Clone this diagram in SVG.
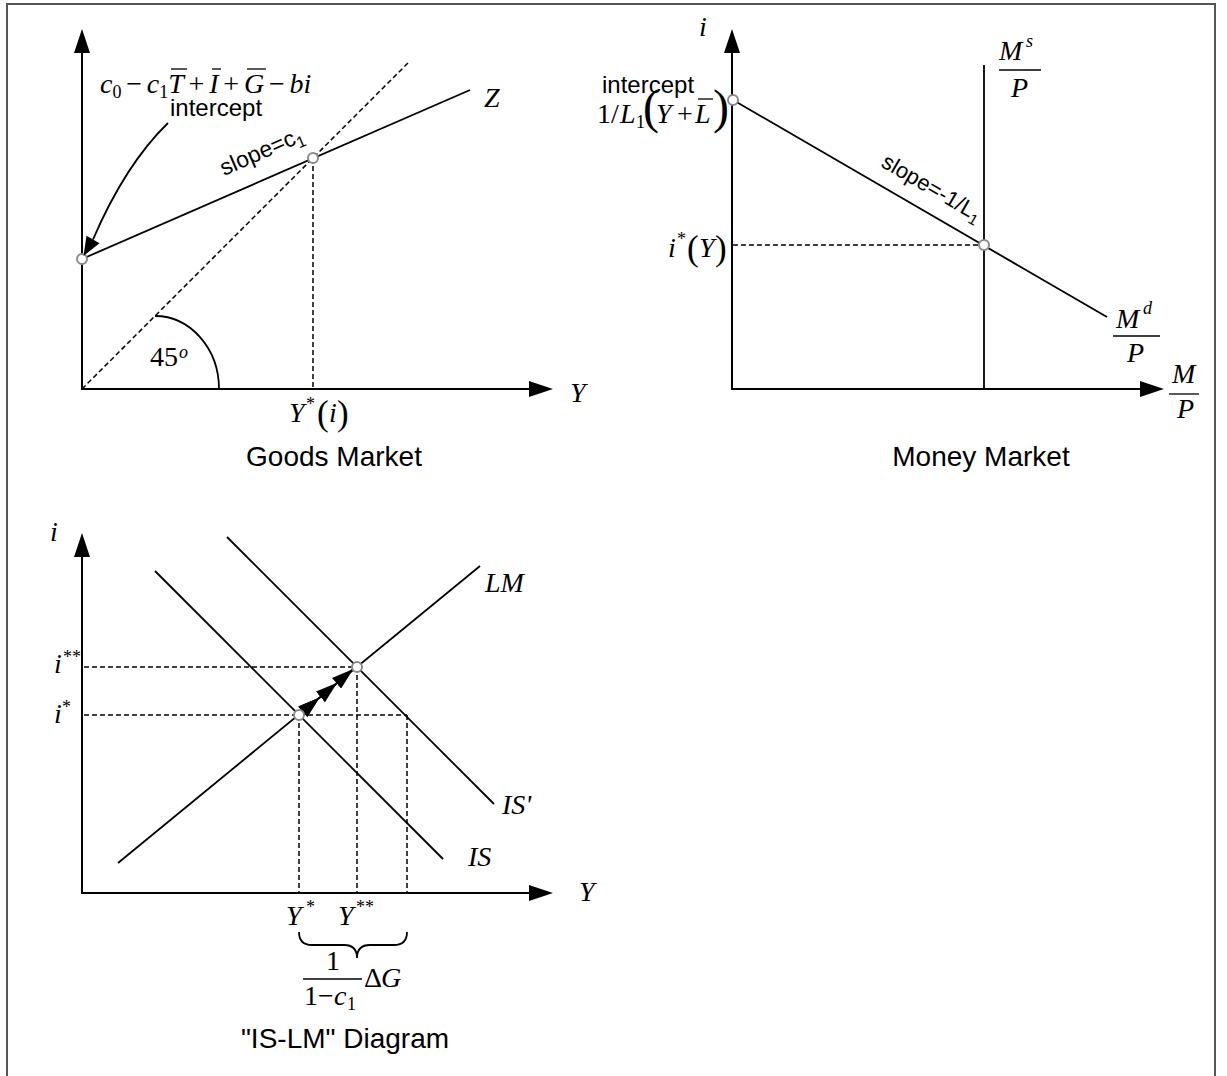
<svg xmlns="http://www.w3.org/2000/svg" width="1227" height="1076" viewBox="0 0 1227 1076">
<style>
.ax{stroke:#000;stroke-width:2;fill:none}
.ln{stroke:#000;stroke-width:1.8;fill:none}
.dash{stroke:#000;stroke-width:1.5;stroke-dasharray:5 3;fill:none}
.ovl{stroke:#000;stroke-width:1.3}
.pt{fill:#fff;stroke:#8a8a8a;stroke-width:2}
.m{font-family:"Liberation Serif","Times New Roman",serif;font-style:italic;font-size:28px;fill:#000}
.n{font-style:normal}
.sup{font-size:18px}
.s{font-family:"Liberation Sans",Arial,sans-serif;fill:#000}
.title{font-size:28px}
</style>
<defs>
<marker id="ah" viewBox="0 0 24 16" refX="0" refY="8" markerWidth="24" markerHeight="16" markerUnits="userSpaceOnUse" orient="auto"><path d="M0,0L24,8L0,16Z" fill="#000"/></marker>
<marker id="sh" viewBox="0 0 22 14" refX="22" refY="7" markerWidth="22" markerHeight="14" markerUnits="userSpaceOnUse" orient="auto"><path d="M0,0L22,7L0,14Z" fill="#000"/></marker>
</defs>
<rect width="1227" height="1076" fill="#fff"/>
<path d="M7,1076V4H1215V1076" fill="none" stroke="#555" stroke-width="2"/>

<g id="goods-market">
  <line class="ax" x1="82" y1="390" x2="82" y2="53" marker-end="url(#ah)"/>
  <line class="ax" x1="81" y1="389" x2="529" y2="389" marker-end="url(#ah)"/>
  <line class="ln" x1="82" y1="259" x2="470" y2="90"/>
  <line class="dash" x1="82" y1="389" x2="408" y2="63"/>
  <line class="dash" x1="313" y1="158" x2="313" y2="389"/>
  <path class="ln" d="M155,316A64,73 0 0 1 219,389"/>
  <circle class="pt" cx="82" cy="259" r="5"/>
  <circle class="pt" cx="313" cy="158" r="5"/>
  <text class="m" y="93"><tspan x="100">c</tspan><tspan class="n sup" x="112.4" y="98">0</tspan><tspan class="n" x="126.2" y="93">−</tspan><tspan x="146.8">c</tspan><tspan class="n sup" x="159.2" y="98">1</tspan><tspan x="168.2" y="93">T</tspan><tspan class="n" x="188.6">+</tspan><tspan x="209.2">I</tspan><tspan class="n" x="223.3">+</tspan><tspan x="243.9">G</tspan><tspan class="n" x="268.9">−</tspan><tspan x="289.5">b</tspan><tspan x="303.5">i</tspan></text>
  <line class="ovl" x1="171" y1="69" x2="187" y2="69"/>
  <line class="ovl" x1="212" y1="69" x2="221" y2="69"/>
  <line class="ovl" x1="247" y1="69" x2="266" y2="69"/>
  <text class="s" x="170" y="116" font-size="24">intercept</text>
  <text class="s" font-size="23" transform="translate(224,176) rotate(-23.6)">slope=c<tspan font-size="16" dy="5">1</tspan></text>
  <text class="m" x="484" y="107">Z</text>
  <text class="m" x="570" y="402">Y</text>
  <text class="m n" x="150" y="366">45</text>
  <text class="m sup" x="179" y="358">o</text>
  <text class="m" y="422"><tspan x="289">Y</tspan><tspan class="n sup" x="306" y="410">*</tspan><tspan class="n" x="317" y="425" font-size="35">(</tspan><tspan x="329" y="422">i</tspan><tspan class="n" x="337" y="425" font-size="35">)</tspan></text>
  <text class="s title" x="334" y="466" text-anchor="middle">Goods Market</text>
</g>

<g id="money-market">
  <line class="ax" x1="732" y1="390" x2="732" y2="53" marker-end="url(#ah)"/>
  <line class="ax" x1="731" y1="389" x2="1140" y2="389" marker-end="url(#ah)"/>
  <line class="ln" x1="984" y1="65" x2="984" y2="389"/>
  <line class="ln" x1="733" y1="100" x2="1107" y2="317"/>
  <line class="dash" x1="733" y1="245" x2="984" y2="245"/>
  <circle class="pt" cx="733" cy="100" r="5"/>
  <circle class="pt" cx="984" cy="245" r="5"/>
  <text class="m" x="699" y="36">i</text>
  <text class="s" x="602" y="93" font-size="24">intercept</text>
  <text class="m" y="123"><tspan class="n" x="597">1</tspan><tspan class="n" x="611">/</tspan><tspan x="620">L</tspan><tspan class="n sup" x="636" y="128">1</tspan><tspan class="n" x="643" y="123" font-size="48">(</tspan><tspan x="656" y="123">Y</tspan><tspan class="n" x="677">+</tspan><tspan x="695">L</tspan><tspan class="n" x="713" y="123" font-size="48">)</tspan></text>
  <line class="ovl" x1="698" y1="99" x2="713" y2="99"/>
  <text class="s" font-size="22" transform="translate(880,166) rotate(30.07)">slope=-1/L<tspan font-size="15" dy="5">1</tspan></text>
  <text class="m" y="257"><tspan x="668">i</tspan><tspan class="n sup" x="677" y="245">*</tspan><tspan class="n" x="687" y="260" font-size="35">(</tspan><tspan x="699" y="257">Y</tspan><tspan class="n" x="715" y="260" font-size="35">)</tspan></text>
  <text class="m" x="999" y="60">M</text><text class="m sup" x="1026" y="47">s</text>
  <line class="ovl" x1="999" y1="70" x2="1041" y2="70"/>
  <text class="m" x="1011" y="97">P</text>
  <text class="m" x="1116" y="328">M</text><text class="m sup" x="1143" y="314">d</text>
  <line class="ovl" x1="1113" y1="336" x2="1160" y2="336"/>
  <text class="m" x="1127" y="362">P</text>
  <text class="m" x="1172" y="383">M</text>
  <line class="ovl" x1="1169" y1="394" x2="1199" y2="394"/>
  <text class="m" x="1177" y="418">P</text>
  <text class="s title" x="981" y="466" text-anchor="middle">Money Market</text>
</g>

<g id="is-lm">
  <line class="ax" x1="82" y1="894" x2="82" y2="557" marker-end="url(#ah)"/>
  <line class="ax" x1="81" y1="893" x2="529" y2="893" marker-end="url(#ah)"/>
  <line class="ln" x1="155" y1="571" x2="443" y2="859"/>
  <line class="ln" x1="227" y1="537" x2="494" y2="804"/>
  <line class="ln" x1="118" y1="863" x2="480" y2="566"/>
  <line class="dash" x1="84" y1="667" x2="357" y2="667"/>
  <line class="dash" x1="84" y1="715" x2="407" y2="715"/>
  <line class="dash" x1="299" y1="715" x2="299" y2="893"/>
  <line class="dash" x1="357" y1="667" x2="357" y2="893"/>
  <line class="dash" x1="407" y1="715" x2="407" y2="893"/>
  <path class="ln" d="M299,932Q299,945 312,945L344,945Q357,945 357,958Q357,945 370,945L394,945Q407,945 407,932"/>
  <text class="m" x="50" y="541">i</text>
  <text class="m" x="54" y="673">i</text><text class="m n sup" x="63" y="663">**</text>
  <text class="m" x="54" y="723">i</text><text class="m n sup" x="62" y="713">*</text>
  <text class="m" x="485" y="592">LM</text>
  <text class="m" x="502" y="814">IS'</text>
  <text class="m" x="468" y="866">IS</text>
  <text class="m" x="579" y="901">Y</text>
  <text class="m" x="286" y="925">Y</text><text class="m n sup" x="306" y="913">*</text>
  <text class="m" x="338" y="925">Y</text><text class="m n sup" x="356" y="913">**</text>
  <text class="m n" x="326" y="970">1</text>
  <line class="ovl" x1="303" y1="979" x2="362" y2="979"/>
  <text class="m" y="1005"><tspan class="n" x="304">1</tspan><tspan class="n" x="318">−</tspan><tspan x="334">c</tspan><tspan class="n sup" x="347" y="1010">1</tspan></text>
  <text class="m" y="987"><tspan class="n" x="364">Δ</tspan><tspan x="381">G</tspan></text>
  <text class="s title" x="345" y="1048" text-anchor="middle">"IS-LM" Diagram</text>
</g>

<g id="connectors">
  <path class="ln" d="M168,123C135,155 110,200 93,239.5"/>
  <polygon points="83.5,256 99.5,243.3 86.5,235.7" fill="#000"/>
  <path class="ln" d="M302.8,711.8L319.6,697.6L337.2,682.7L353.3,669" marker-mid="url(#sh)" marker-end="url(#sh)"/>
  <polygon points="319.6,697.6 307.3,717.1 298.3,706.4" fill="#000"/>
  <circle class="pt" cx="299" cy="715" r="5"/>
  <circle class="pt" cx="357" cy="667" r="5"/>
</g>
</svg>
